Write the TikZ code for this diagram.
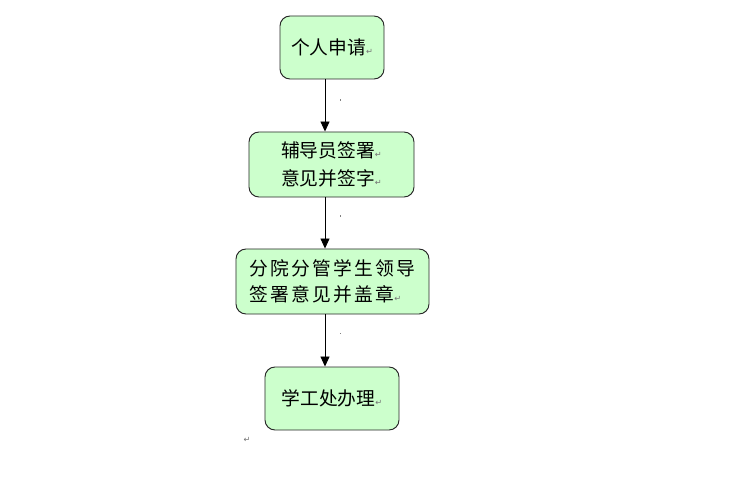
\documentclass[tikz,border=0pt]{standalone}
\usepackage{fontspec}
\usepackage{xcolor}
\usepackage{tikz}
\usetikzlibrary{arrows.meta}
\newfontfamily\cjk{Noto Sans CJK SC}
\newfontfamily\markfont{DejaVu Sans}
\definecolor{boxgreen}{RGB}{204,255,204}
\newcommand{\ret}{{\markfont\fontsize{7}{7}\selectfont\color{black!55}↵}}

\begin{document}
\begin{tikzpicture}[x=0.03cm,y=-0.03cm,
    stepbox/.style={draw=black!85, line width=0.8pt, fill=boxgreen, rounded corners=0.3cm,
      align=left, inner sep=0pt, font=\cjk\fontsize{16}{24}\selectfont},
    flow/.style={-{Triangle[length=0.3cm,width=0.27cm]}, line width=0.8pt}]
  \useasboundingbox (0,0) rectangle (751,480);

  \node[stepbox, minimum width=3.12cm, minimum height=1.89cm] (apply) at (332,47.5) {个人申请\ret};
  \node[stepbox, minimum width=4.95cm, minimum height=1.95cm] (tutor) at (331.5,164.5)
    {辅导员签署\ret\\意见并签字\ret};
  \node[stepbox, minimum width=5.79cm, minimum height=1.95cm,
    font=\cjk\fontsize{16}{22}\selectfont\addfontfeature{LetterSpace=12}] (college) at (332.5,281.5)
    {分院分管学生领导\\签署意见并盖章\ret};
  \node[stepbox, minimum width=4.02cm, minimum height=1.89cm] (office) at (332,398.5) {学工处办理\ret};

  \coordinate (axis) at (325,0);
  \draw[flow] (apply.south -| axis) -- (tutor.north -| axis);
  \draw[flow] (tutor.south -| axis) -- (college.north -| axis);
  \draw[flow] (college.south -| axis) -- (office.north -| axis);

  \fill[black!50] (339.5,99.5) rectangle +(1,1.5);
  \fill[black!50] (339.5,215.5) rectangle +(1,1.5);
  \fill[black!50] (339.5,332.5) rectangle +(1,1.5);
  \node (endmark) at (247,440) {\ret};
\end{tikzpicture}
\end{document}
